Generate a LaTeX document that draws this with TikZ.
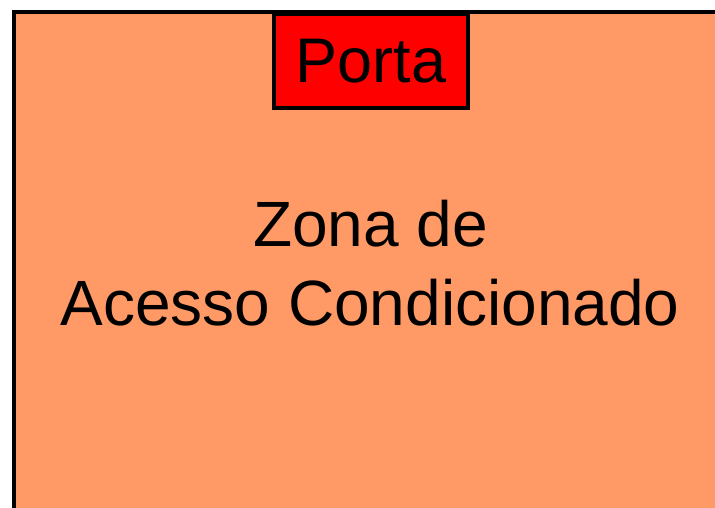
\documentclass[tikz,border=0pt]{standalone}
\usepackage{fontspec}
\setmainfont{Liberation Sans}
\definecolor{zonefill}{RGB}{255,153,102}
\definecolor{doorfill}{RGB}{255,0,0}
\tikzset{
  zonebox/.style={draw=black, line width=4pt, fill=zonefill},
  doorbox/.style={draw=black, line width=4pt, fill=doorfill, inner sep=0pt, minimum width=194pt, minimum height=94pt},
  doortext/.style={font=\fontsize{63}{76}\selectfont},
  bigtext/.style={font=\fontsize{64}{76}\selectfont, inner sep=0pt},
}
\begin{document}
\begin{tikzpicture}[x=1pt, y=-1pt]
\useasboundingbox (0,0) rectangle (715,507);
\clip (0,0) rectangle (715,507);
\path[zonebox] (14,12) rectangle (730,530);
\node[doorbox, doortext] (porta) at (371,61) {Porta};
\node[bigtext, anchor=base] (zona) at (370.5,246) {Zona de};
\node[bigtext, anchor=base] (acesso) at (370,325) {Acesso Condicionado};
\end{tikzpicture}
\end{document}
